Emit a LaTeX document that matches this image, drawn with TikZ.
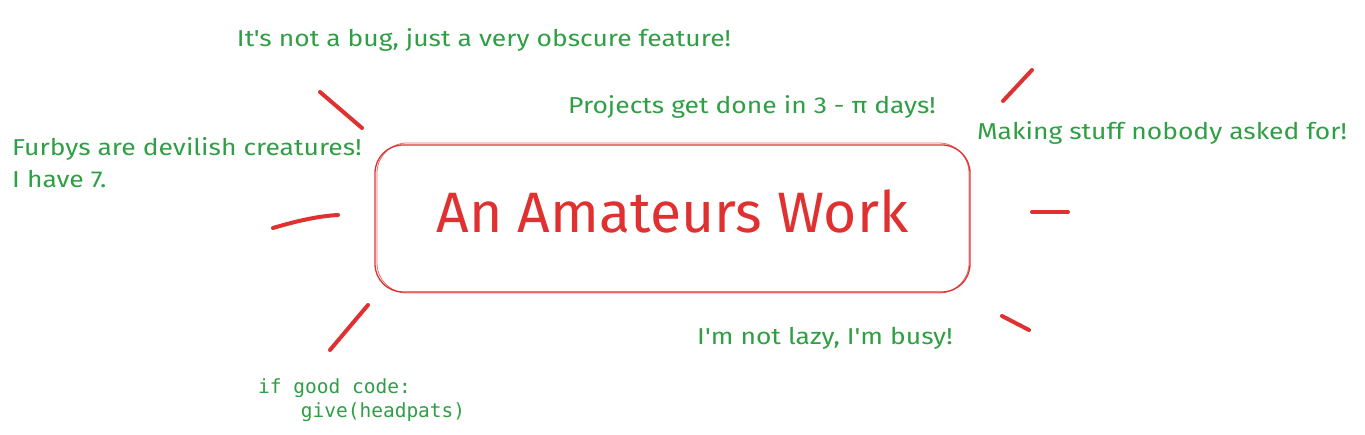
\documentclass[tikz,border=0pt]{standalone}
\usepackage{fontspec}
\setmainfont{Fira Sans}
\setmonofont{DejaVu Sans Mono}
\newfontfamily\handfont[FakeStretch=1.15]{Fira Sans}
\definecolor{xred}{HTML}{E03131}
\definecolor{xgreen}{HTML}{2F9E44}
\begin{document}
\begin{tikzpicture}[x=1pt,y=-1pt,
  ray/.style={draw=xred,line width=4pt,line cap=round},
  note/.style={text=xgreen,font=\handfont\fontsize{23}{32}\selectfont,inner sep=0pt},
  code/.style={text=xgreen,font=\ttfamily\fontsize{19.5}{24}\selectfont,inner sep=0pt,align=left}]
\useasboundingbox (0,0) rectangle (1365,435);
\node[draw=xred,line width=1.3pt,rounded corners=28pt,minimum width=595pt,minimum height=147pt,inner sep=0pt] (box) at (672.5,218.5) {};
\draw[xred,line width=0.8pt,rounded corners=30pt,opacity=0.7] (377,143) rectangle (969,293);
\node[text=xred,font=\fontsize{57}{60}\selectfont,inner sep=0pt] (title) at ([yshift=7pt]box.center) {An Amateurs Work};
\draw[ray] (320,92) -- (362,128);
\draw[ray] (273,228) .. controls (300,220) and (320,216) .. (338,215);
\draw[ray] (330,350) -- (368,305);
\draw[ray] (1003,101) -- (1032,70);
\draw[ray] (1032,212) -- (1068,212);
\draw[ray] (1002,316) -- (1029,330);
\node[note,anchor=center] (t1) at (484,40) {It's not a bug, just a very obscure feature!};
\node[note,anchor=center] (t2) at (752,107) {Projects get done in 3 - π days!};
\node[note,anchor=center] (t3) at (1162,133) {Making stuff nobody asked for!};
\node[note,anchor=north west,align=left] (t4) at (12,137) {Furbys are devilish creatures!\\I have 7.};
\node[note,anchor=center] (t5) at (825,338) {I'm not lazy, I'm busy!};
\node[code,anchor=north west] (t6) at (258,378) {if good code:\\\hspace*{4ex}give(headpats)};
\end{tikzpicture}
\end{document}
